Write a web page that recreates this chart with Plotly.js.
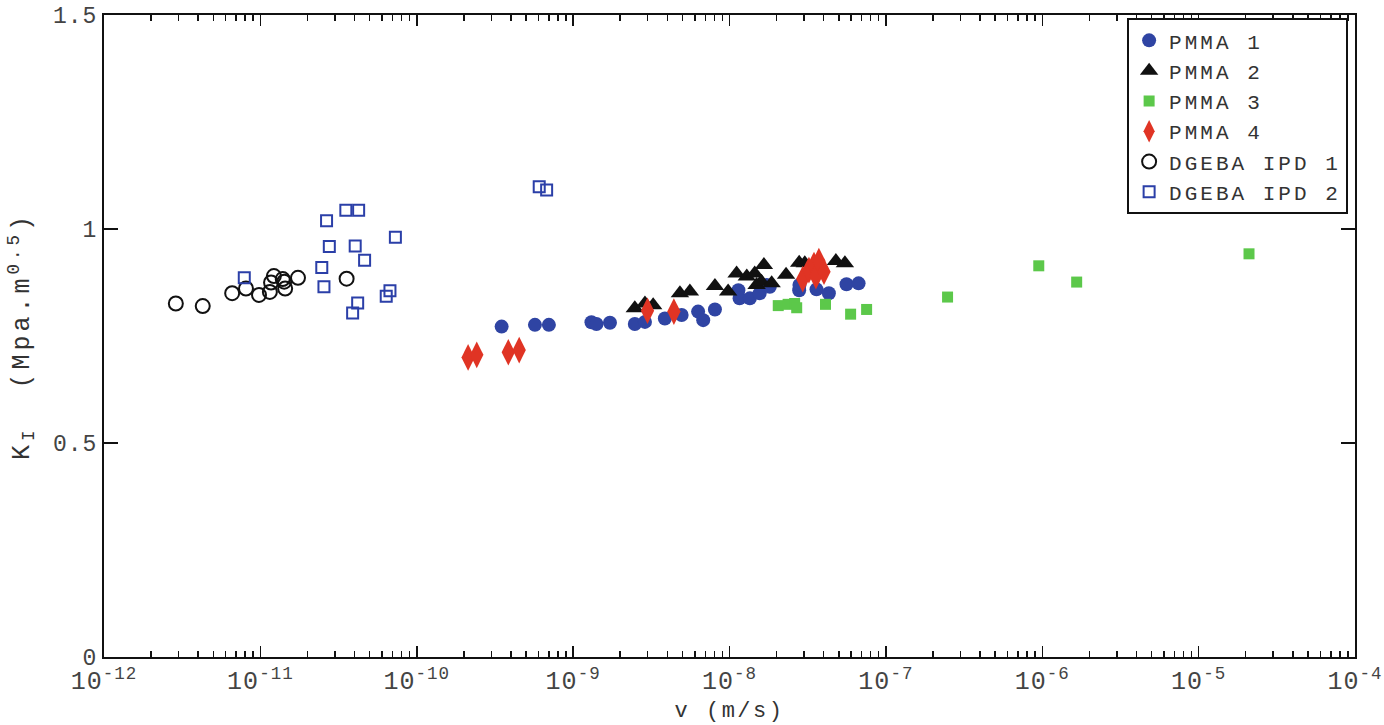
<!DOCTYPE html>
<html>
<head>
<meta charset="utf-8">
<script src="https://cdn.plot.ly/plotly-3.0.1.min.js"></script>
<style>
html,body{margin:0;padding:0;background:#fff;}
#chart{width:1384px;height:725px;}
.legendtext{letter-spacing:3px;}
.xtick text,.ytick text{letter-spacing:1px;}
.xtitle{letter-spacing:2.5px;}
.ytitle{letter-spacing:4px;}
</style>
</head>
<body>
<div id="chart"></div>
<script>
// ---- data ----
var seriesNames = ["PMMA 1", "PMMA 2", "PMMA 3", "PMMA 4", "DGEBA IPD 1", "DGEBA IPD 2"];

var pmma1_v = [3.49e-10, 5.7e-10, 7.0e-10, 1.31e-9, 1.41e-9, 1.72e-9, 2.48e-9, 2.88e-9, 3.86e-9, 4.94e-9, 6.3e-9, 6.79e-9, 8.07e-9, 1.14e-8, 1.16e-8, 1.35e-8, 1.56e-8, 1.73e-8, 1.81e-8, 2.79e-8, 2.8e-8, 3.6e-8, 4.32e-8, 5.6e-8, 6.69e-8];
var pmma1_k = [0.772, 0.776, 0.776, 0.782, 0.778, 0.781, 0.778, 0.783, 0.791, 0.799, 0.807, 0.787, 0.812, 0.857, 0.838, 0.838, 0.850, 0.869, 0.865, 0.857, 0.869, 0.859, 0.850, 0.871, 0.873];

var pmma2_v = [2.48e-9, 2.88e-9, 3.25e-9, 4.82e-9, 5.58e-9, 8.07e-9, 9.8e-9, 1.11e-8, 1.29e-8, 1.45e-8, 1.49e-8, 1.66e-8, 1.6e-8, 1.86e-8, 2.3e-8, 2.79e-8, 3.03e-8, 4.79e-8, 5.47e-8];
var pmma2_k = [0.815, 0.826, 0.822, 0.850, 0.854, 0.867, 0.854, 0.896, 0.889, 0.896, 0.869, 0.916, 0.877, 0.873, 0.893, 0.921, 0.920, 0.925, 0.920];

var pmma3_v = [2.05e-8, 2.37e-8, 2.61e-8, 2.69e-8, 4.11e-8, 5.95e-8, 7.53e-8, 2.48e-7, 9.5e-7, 1.66e-6, 2.1e-5];
var pmma3_k = [0.821, 0.824, 0.826, 0.816, 0.824, 0.801, 0.812, 0.841, 0.914, 0.876, 0.942];

var pmma4_v = [2.13e-10, 2.42e-10, 3.85e-10, 4.52e-10, 2.99e-9, 4.41e-9, 2.94e-8, 3.22e-8, 3.47e-8, 3.57e-8, 3.73e-8, 4.02e-8];
var pmma4_k = [0.700, 0.706, 0.712, 0.717, 0.809, 0.807, 0.883, 0.904, 0.916, 0.890, 0.925, 0.900];

var dgeba1_v = [2.88e-12, 4.28e-12, 6.6e-12, 8.09e-12, 9.8e-12, 1.15e-11, 1.17e-11, 1.22e-11, 1.39e-11, 1.42e-11, 1.44e-11, 1.74e-11, 3.56e-11];
var dgeba1_k = [0.826, 0.820, 0.850, 0.861, 0.846, 0.853, 0.875, 0.890, 0.883, 0.877, 0.861, 0.886, 0.884];

var dgeba2_v = [7.89e-12, 2.65e-11, 3.52e-11, 4.25e-11, 7.3e-11, 2.76e-11, 4.04e-11, 4.64e-11, 2.47e-11, 2.55e-11, 4.19e-11, 3.89e-11, 6.74e-11, 6.38e-11, 6.07e-10, 6.77e-10];
var dgeba2_k = [0.886, 1.019, 1.044, 1.044, 0.981, 0.959, 0.960, 0.927, 0.910, 0.865, 0.827, 0.804, 0.856, 0.843, 1.099, 1.091];

var xTickVals = [1e-12, 1e-11, 1e-10, 1e-9, 1e-8, 1e-7, 1e-6, 1e-5, 1e-4];
var xTickText = ["10<sup>-12</sup>", "10<sup>-11</sup>", "10<sup>-10</sup>", "10<sup>-9</sup>", "10<sup>-8</sup>", "10<sup>-7</sup>", "10<sup>-6</sup>", "10<sup>-5</sup>", "10<sup>-4</sup>"];
var yTickVals = [0, 0.5, 1, 1.5];
var yTickText = ["0", "0.5", "1", "1.5"];

var xTitle = "v (m/s)";
var yTitle = "K<sub>I</sub>\u00a0 (Mpa.m<sup>0.5</sup>)";

// minor tick positions of the log axis (2..9 within each decade)
var minorVals = [];
for (var d = 0; d < xTickVals.length - 1; d++) {
  for (var m = 2; m <= 9; m++) minorVals.push(m * xTickVals[d]);
}

// ---- drawing ----
var FONT = "Liberation Mono, Courier New, monospace";

var traces = [
  {x: pmma1_v, y: pmma1_k, name: seriesNames[0], mode: "markers", type: "scatter",
   marker: {symbol: "circle", size: 14, color: "#2f44a3"}},
  {x: pmma2_v, y: pmma2_k, name: seriesNames[1], mode: "markers", type: "scatter",
   marker: {symbol: "triangle-up", size: 16, color: "#111111"}},
  {x: pmma3_v, y: pmma3_k, name: seriesNames[2], mode: "markers", type: "scatter",
   marker: {symbol: "square", size: 11, color: "#5cc84a"}},
  {x: pmma4_v, y: pmma4_k, name: seriesNames[3], mode: "markers", type: "scatter",
   marker: {symbol: "diamond-tall", size: 19, color: "#e03424"}},
  {x: dgeba1_v, y: dgeba1_k, name: seriesNames[4], mode: "markers", type: "scatter",
   marker: {symbol: "circle-open", size: 14, color: "#111111", line: {width: 2, color: "#111111"}}},
  {x: dgeba2_v, y: dgeba2_k, name: seriesNames[5], mode: "markers", type: "scatter",
   marker: {symbol: "square-open", size: 11, color: "#2b3fa8", line: {width: 2, color: "#2b3fa8"}}}
];

var layout = {
  width: 1384, height: 725,
  margin: {l: 104, r: 29, t: 15, b: 68},
  paper_bgcolor: "#fff", plot_bgcolor: "#fff",
  font: {family: FONT, color: "#333", size: 22},
  showlegend: true,
  legend: {
    x: 0.9945, xanchor: "right", y: 0.995, yanchor: "top",
    bgcolor: "#fff", bordercolor: "#111", borderwidth: 2,
    font: {family: FONT, size: 21, color: "#333"},
    tracegroupgap: 0, itemsizing: "trace"
  },
  xaxis: {
    type: "log", range: [-12, -4],
    tickmode: "array", tickvals: xTickVals, ticktext: xTickText,
    ticks: "inside", ticklen: 11, tickwidth: 1.5, tickcolor: "#111",
    minor: {tickmode: "array", tickvals: minorVals, ticks: "inside", ticklen: 6, tickwidth: 1.5, tickcolor: "#111", showgrid: false},
    showline: true, linecolor: "#111", linewidth: 2, mirror: "ticks",
    showgrid: false, zeroline: false,
    tickfont: {family: FONT, size: 25, color: "#444"},
    title: {text: xTitle, font: {family: FONT, size: 22, color: "#333"}, standoff: 6}
  },
  yaxis: {
    range: [0, 1.5],
    tickmode: "array", tickvals: yTickVals, ticktext: yTickText,
    ticks: "inside", ticklen: 14, tickwidth: 1.5, tickcolor: "#111",
    showline: true, linecolor: "#111", linewidth: 2, mirror: "ticks",
    showgrid: false, zeroline: false,
    tickfont: {family: FONT, size: 23, color: "#444"},
    title: {text: yTitle, font: {family: FONT, size: 25, color: "#333"}, standoff: 16}
  }
};

Plotly.newPlot("chart", traces, layout, {staticPlot: true, displayModeBar: false});
</script>
</body>
</html>
